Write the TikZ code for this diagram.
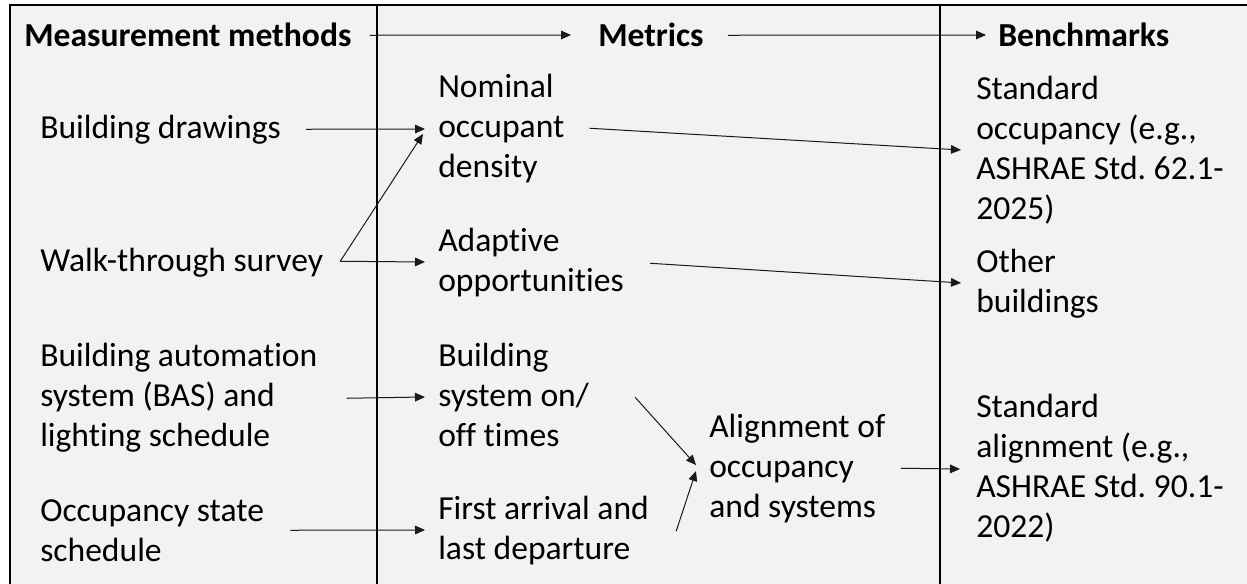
\documentclass[tikz,border=0pt]{standalone}
\usepackage{fontspec}
\setmainfont{Carlito}[RawFeature={-liga;-clig}]
\usetikzlibrary{arrows.meta,calc}
\definecolor{panel}{HTML}{F2F2F2}
\definecolor{ink}{HTML}{1A1A1A}
\frenchspacing
\tikzset{
  txt/.style={inner sep=0pt, anchor=north west, align=left, text=black,
    font=\fontsize{25.2pt}{30pt}\selectfont},
  hdr/.style={txt, font=\fontsize{25.2pt}{30pt}\selectfont\bfseries},
  conn/.style={draw=ink, line width=0.75pt, -{Triangle[length=7.5pt,width=6.5pt]}},
  frame/.style={draw=black, line width=1.2pt}
}
\begin{document}
\begin{tikzpicture}[x=0.75pt,y=-0.75pt]
\useasboundingbox (0,0) rectangle (1247,584);
\fill[white] (0,0) rectangle (1247,584);
\fill[panel] (10,5) rectangle (1247,584);
\draw[frame] (10,584) -- (10,5) -- (1247,5);
\draw[frame] (377,5) -- (377,584);
\draw[frame] (940,5) -- (940,584);

% headers
\node[hdr] (hm) at (24,18) {\strut Measurement methods\strut};
\node[hdr] (hmet) at (598,18) {\strut Metrics\strut};
\node[hdr] (hb) at (998,18) {\strut Benchmarks\strut};

% measurement methods
\node[txt] (bd) at (40,110) {\strut Building drawings\strut};
\node[txt] (ws) at (40,243) {\strut Walk-through survey\strut};
\node[txt] (bas) at (40,338) {\strut Building automation\\system (BAS) and\\lighting schedule\strut};
\node[txt] (oss) at (40,493) {\strut Occupancy state\\schedule\strut};

% metrics
\node[txt] (nod) at (438,69) {\strut Nominal\\occupant\\density\strut};
\node[txt] (ado) at (438,223) {\strut Adaptive\\opportunities\strut};
\node[txt] (bso) at (438,338) {\strut Building\\system on/\\off times\strut};
\node[txt] (fal) at (438,491) {\strut First arrival and\\last departure\strut};
\node[txt] (aos) at (709,409) {\strut Alignment of\\occupancy\\and systems\strut};

% benchmarks
\node[txt] (so) at (976,71) {\strut Standard\\occupancy (e.g.,\\ASHRAE Std. 62.1-\\2025)\strut};
\node[txt] (ob) at (976,244) {\strut Other\\buildings\strut};
\node[txt] (sa) at (976,389) {\strut Standard\\alignment (e.g.,\\ASHRAE Std. 90.1-\\2022)\strut};

% connectors
\draw[conn] ($(hm.east)+(18,-3)$) -- ($(hmet.north west)+(-27,17)$);
\draw[conn] ($(hmet.east)+(24,-3)$) -- ($(hb.north west)+(-12,17)$);

\draw[conn] ($(bd.east)+(25,-1)$) -- ($(nod.north west)+(-13,60)$);
\coordinate (wsj) at ($(ws.east)+(17,-2)$);
\draw[conn] (wsj) -- ($(nod.north west)+(-15,65)$);
\draw[conn] (wsj) -- ($(ado.north west)+(-13,39)$);
\draw[conn] ($(bas.east)+(29,0)$) -- ($(bso.north west)+(-13,59)$);
\draw[conn] ($(oss.east)+(26,-3)$) -- ($(fal.north west)+(-13,39)$);

\draw[conn] ($(nod.east)+(25,-1)$) -- ($(so.north west)+(-15,79)$);
\draw[conn] ($(ado.east)+(26,0)$) -- ($(ob.north west)+(-15,39)$);
\draw[conn] ($(bso.east)+(46,-1)$) -- ($(aos.north west)+(-13,56)$);
\draw[conn] ($(fal.east)+(27,0)$) -- ($(aos.north west)+(-13,62)$);
\draw[conn] ($(aos.east)+(15,-1)$) -- ($(sa.north west)+(-16,80)$);
\end{tikzpicture}
\end{document}
